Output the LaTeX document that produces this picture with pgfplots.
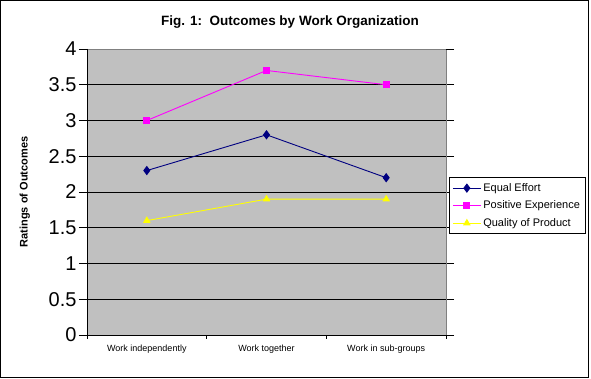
\documentclass[border=0pt]{standalone}
\usepackage{fontspec}
\setmainfont{Liberation Sans}
\usepackage{pgfplots}
\pgfplotsset{compat=1.18}
\definecolor{navyc}{HTML}{000080}
\definecolor{magc}{HTML}{FF00FF}
\definecolor{yelc}{HTML}{FFFF00}
\definecolor{plotgray}{HTML}{C0C0C0}
\definecolor{bordergray}{HTML}{808080}
\begin{document}
\begin{tikzpicture}
\useasboundingbox (0pt,0pt) rectangle (591pt,378pt);
\draw[black, line width=1pt] (0.5pt,1pt) rectangle (588.5pt,377.5pt);
\node[font=\fontsize{13.5}{15}\selectfont\bfseries] at (290pt,356pt) {Fig. 1:\ \ Outcomes by Work Organization};
\begin{axis}[
  at={(87pt,43pt)}, anchor=south west,
  width=359pt, height=286pt, scale only axis,
  xmin=-0.5, xmax=2.5, ymin=0, ymax=4,
  axis background/.style={fill=plotgray},
  axis line style={draw=bordergray, line width=0.8pt},
  xtick={0,1,2},
  xticklabels={Work independently, Work together, Work in sub-groups},
  xtick style={draw=none},
  xticklabel style={font=\fontsize{9}{10}\selectfont, yshift=2pt},
  ytick={0,0.5,1,1.5,2,2.5,3,3.5},
  extra y ticks={4},
  extra y tick style={grid=none},
  ymajorgrids, grid style={black, line width=0.8pt},
  tick align=outside, major tick length=8pt,
  ytick style={black, line width=0.8pt},
  yticklabel style={font=\fontsize{20}{22}\selectfont, xshift=1pt},
  /pgf/number format/assume math mode=true,
  ylabel={Ratings of Outcomes},
  ylabel style={font=\fontsize{11}{12}\selectfont\bfseries, at={(axis description cs:-0.173,0.5)}, anchor=center},
  legend style={at={(rel axis cs:1.0084,0.5524)}, anchor=north west, draw=black, line width=0.8pt, fill=white,
    font=\fontsize{11}{12}\selectfont, row sep=4pt, inner xsep=3pt, inner ysep=4pt},
  legend cell align=left,
  legend image code/.code={\draw[mark repeat=2,mark phase=2,#1] plot coordinates {(0pt,0pt) (14pt,0pt) (28pt,0pt)};},
  clip=false,
]
\addplot[navyc, line width=0.9pt, mark=diamond*, mark size=4pt, mark options={fill=navyc}] coordinates {(0,2.3) (1,2.8) (2,2.2)};
\addlegendentry{Equal Effort}
\addplot[magc, line width=0.9pt, mark=square*, mark size=3pt, mark options={fill=magc}] coordinates {(0,3.0) (1,3.7) (2,3.5)};
\addlegendentry{Positive Experience}
\addplot[yelc, line width=0.9pt, mark=triangle*, mark size=3.5pt, mark options={fill=yelc}] coordinates {(0,1.6) (1,1.9) (2,1.9)};
\addlegendentry{Quality of Product}
\draw[black, line width=0.8pt] (rel axis cs:0,1) -- (rel axis cs:0,0) -- (rel axis cs:1,0);
\draw[black, line width=0.8pt] (axis cs:-0.5,0) -- ++(0pt,-4pt);
\draw[black, line width=0.8pt] (axis cs:0.5,0) -- ++(0pt,-4pt);
\draw[black, line width=0.8pt] (axis cs:1.5,0) -- ++(0pt,-4pt);
\draw[black, line width=0.8pt] (axis cs:2.5,0) -- ++(0pt,-4pt);
\end{axis}
\end{tikzpicture}
\end{document}
